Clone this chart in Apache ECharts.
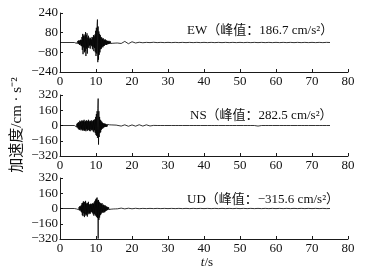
<!DOCTYPE html>
<html>
<head>
<meta charset="utf-8">
<script src="https://cdn.jsdelivr.net/npm/echarts@6/dist/echarts.min.js"></script>
<style>
  html, body { margin: 0; padding: 0; background: #fff; }
  #chart { width: 365px; height: 274px; }
</style>
</head>
<body>
<div id="chart"></div>
<script>
// sampling of the strong-motion part: 4.0 s .. 16.0 s, every 0.1 s
var T0 = 4.0, DT = 0.1;
// tail: 17 s .. 75 s, every 1 s
var TAIL_T0 = 17, TAIL_DT = 1;

var xTicks = [0, 10, 20, 30, 40, 50, 60, 70, 80];
var ewTicks = [-240, -80, 80, 240];
var nsTicks = [-320, -160, 0, 160, 320];
var udTicks = [-320, -160, 0, 160, 320];

var labels = ['EW（峰值：186.7 cm/s²）', 'NS（峰值：282.5 cm/s²）', 'UD（峰值：−315.6 cm/s²）'];

// EW, cm/s^2
var ewMain = [
  0, 3, -4, 6, -5, 8, -7, 5, -9, 10,
  -12, 15, -10, 18, -20, 14, -16, 22, -25, 20,
  -30, 45, -60, 70, -95, 55, -40, 65, -80, 50,
  -70, 85, -110, 60, -50, 75, -90, 40, -35, 55,
  -45, 30, -25, 40, -50, 35, -20, 25, -30, 45,
  -55, 40, -35, 60, -70, 50, -45, 65, -80, 95,
  -110, 120, -90, 140, 186.7, -160, 130, -140, 90, -100,
  70, -80, 60, -55, 45, -50, 40, -35, 30, -40,
  35, -30, 25, -28, 22, -20, 25, -18, 15, -20,
  18, -15, 12, -14, 10, -12, 14, -10, 8, -10,
  9, -8, 7, -9, 6, -7, 8, -6, 5, -6,
  5, -6, 4, -5, 6, -4, 5, -4, 3, -4, 3
];
var ewTail = [-8, 9, -10, 6, -4, 2, -2, 1, -1, 2, -1, 1, -1, 1, -1, 1, -1, 1, -1, 1,
  -1, 1, -1, 1, -1, 1, -1, 1, -1, 1, -1, 1, -1, 1, -1, 1, -1, 1, -1, 1,
  -1, 1, -1, 1, -1, 1, -1, 1, -1, 1, -1, 1, -1, 1, -1, 1, -1, 1, 0];

// NS
var nsMain = [
  0, 4, -5, 8, -10, 12, -15, 18, -20, 25,
  -30, 35, -40, 30, -45, 50, -35, 40, -50, 45,
  -40, 55, -50, 45, -55, 50, -45, 60, -55, 40,
  -50, 45, -60, 55, -40, 50, -55, 45, -50, 60,
  -45, 40, -55, 50, -60, 45, -40, 55, -50, 40,
  -45, 50, -60, 55, -70, 60, -50, 65, -80, 90,
  -100, 120, -110, 150, -130, 180, 282.5, -200, 150, -120,
  90, -80, 60, -70, 50, -45, 40, -35, 30, -30,
  25, -22, 20, -18, 20, -15, 18, -14, 12, -13,
  12, -10, 11, -9, 10, -8, 9, -8, 7, -7,
  8, -6, 7, -6, 6, -5, 6, -5, 5, -5,
  5, -4, 6, -4, 4, -5, 4, -3, 4, -3, 3
];
var nsTail = [-6, 7, -8, 6, -7, 8, -6, 7, -5, 1, 0, 0, 0, 0, 0, 0, 0, 0, 0, 0,
  0, 0, 0, 0, 0, 0, 0, 0, 0, 0, 0, 0, 0, 0, 0, 0, 0, 0, -6, 0,
  0, 0, 0, 0, 0, 0, 0, 0, 0, 0, 0, 0, 0, 0, 0, 0, 0, 0, 0];

// UD
var udMain = [
  0, 2, -3, 3, -4, 5, -5, 4, -6, 5,
  -8, 10, -12, 15, -20, 25, -18, 22, -30, 35,
  -40, 55, -70, 60, -80, 75, -50, 65, -90, 70,
  -60, 80, -75, 50, -65, 60, -85, 55, -45, 70,
  -60, 45, -50, 40, -55, 50, -40, 45, -35, 50,
  -45, 55, -60, 50, -75, 65, -55, 80, -70, 95,
  -80, 105, -90, 115, -100, 85, -315.6, 90, -120, 70,
  -95, 60, -70, 55, -60, 50, -45, 55, -40, 35,
  -45, 40, -35, 30, -40, 35, -30, 25, -25, 20,
  -20, 18, -15, 14, -12, 12, -10, 10, -9, 8,
  -8, 7, -7, 6, -6, 6, -5, 5, -5, 4,
  -4, 5, -4, 4, -4, 3, -3, 4, -3, 3, -3
];
var udTail = [4, -4, 3, -3, 2, -2, 1, -1, 1, -1, 1, -1, 1, -1, 1, -1, 1, -1, 1, -1,
  1, -1, 1, -1, 1, -1, 1, -1, 1, -1, 1, -1, 1, -1, 1, -1, 1, -1, 1, -1,
  1, -1, 1, -1, 1, -1, 1, -1, 1, -1, 1, -1, 1, -1, 1, -1, 1, -1, 0];

function toPairs(main, tail) {
  var out = [[0, 0]];
  main.forEach(function (v, i) { out.push([+(T0 + i * DT).toFixed(2), v]); });
  tail.forEach(function (v, i) { out.push([TAIL_T0 + i * TAIL_DT, v]); });
  return out;
}

var SERIF = '"Liberation Serif", "Times New Roman", "Noto Sans CJK SC", serif';
var axisColor = '#1a1a1a';

function minus(v) { return String(v).replace('-', '−'); }

var grids = [
  { left: 60, width: 288, top: 13, height: 59 },
  { left: 60, width: 288, top: 95, height: 61 },
  { left: 60, width: 288, top: 178, height: 61 }
];

var yDefs = [
  { ticks: ewTicks, min: -240, max: 240, interval: 160 },
  { ticks: nsTicks, min: -320, max: 320, interval: 160 },
  { ticks: udTicks, min: -320, max: 320, interval: 160 }
];

var xAxes = grids.map(function (g, i) {
  return {
    gridIndex: i, type: 'value', min: xTicks[0], max: xTicks[xTicks.length - 1], interval: 10,
    axisLine: { show: true, onZero: false, lineStyle: { color: axisColor, width: 1 } },
    axisTick: { show: true, inside: true, length: 3, lineStyle: { color: axisColor } },
    axisLabel: { color: '#111', fontFamily: SERIF, fontSize: 13, margin: 3 },
    splitLine: { show: false }
  };
});

var yAxes = yDefs.map(function (d, i) {
  return {
    gridIndex: i, type: 'value', min: d.min, max: d.max, interval: d.interval,
    axisLine: { show: true, lineStyle: { color: axisColor, width: 1 } },
    axisTick: { show: true, inside: true, length: 3, lineStyle: { color: axisColor } },
    axisLabel: {
      color: '#111', fontFamily: SERIF, fontSize: 13, margin: 2,
      formatter: function (v) { return d.ticks.indexOf(v) >= 0 ? minus(v) : ''; }
    },
    splitLine: { show: false }
  };
});

var data = [toPairs(ewMain, ewTail), toPairs(nsMain, nsTail), toPairs(udMain, udTail)];

var series = data.map(function (d, i) {
  return {
    type: 'line', xAxisIndex: i, yAxisIndex: i, data: d,
    showSymbol: false, symbol: 'none', animation: false,
    lineStyle: { color: '#000', width: 0.8 }
  };
});

var labelPos = [[187, 32], [190, 117], [187, 201]];

var graphic = labelPos.map(function (p, i) {
  return {
    type: 'text', left: p[0], top: p[1] - 8,
    style: { text: labels[i], fill: '#111', font: '13px ' + SERIF }
  };
});
graphic.push({
  type: 'text', x: 17, y: 125, rotation: Math.PI / 2,
  style: {
    text: '加速度/cm · s⁻²', fill: '#111', font: '15px ' + SERIF,
    align: 'center', verticalAlign: 'middle'
  }
});
graphic.push({
  type: 'text', x: 207, y: 263,
  style: {
    text: '{i|t}{n|/s}', align: 'center', verticalAlign: 'middle',
    rich: {
      i: { font: 'italic 13px ' + SERIF, fill: '#111' },
      n: { font: '13px ' + SERIF, fill: '#111' }
    }
  }
});

var chart = echarts.init(document.getElementById('chart'), null, { renderer: 'canvas' });
chart.setOption({
  backgroundColor: '#fff',
  animation: false,
  grid: grids,
  xAxis: xAxes,
  yAxis: yAxes,
  series: series,
  graphic: graphic
});
</script>
</body>
</html>
